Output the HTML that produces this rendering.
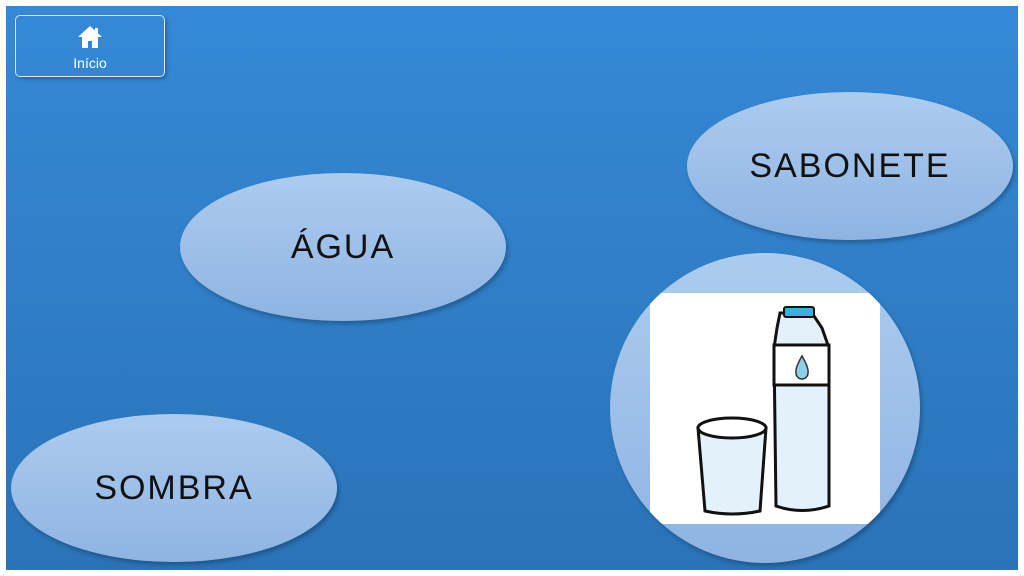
<!DOCTYPE html>
<html><head><style>
html,body{margin:0;padding:0;width:1024px;height:576px;background:#fff;overflow:hidden;font-family:"Liberation Sans",sans-serif}
#bg{position:absolute;left:6px;top:6px;width:1012px;height:564px;background:linear-gradient(#3589d6,#2a73b8)}
.el{position:absolute;width:326px;height:148px;border-radius:50%;background:linear-gradient(#acccef,#8fb4e2);box-shadow:2px 3px 4px rgba(0,0,0,.25);display:flex;align-items:center;justify-content:center;font-size:34px;letter-spacing:2px;color:#111}
#btn{position:absolute;left:15px;top:15px;width:150px;height:62px;border:1.5px solid #d8e6f5;border-radius:5px;box-sizing:border-box;box-shadow:2px 2px 4px rgba(0,0,0,.25);color:#fff;text-align:center;font-size:14px}
</style></head><body>
<div id="bg"></div>
<div id="btn">
<svg width="26" height="24" viewBox="0 0 26 24" style="margin-top:9px;display:block;margin-left:auto;margin-right:auto"><path d="M13 1 L25 12 L21 12 L21 23 L15 23 L15 16 L11 16 L11 23 L5 23 L5 12 L1 12 Z" fill="#fff"/><rect x="18" y="3" width="3" height="6" fill="#fff"/></svg>
<div style="margin-top:6px">Início</div></div>
<div class="el" style="left:180px;top:173px">ÁGUA</div>
<div class="el" style="left:687px;top:92px">SABONETE</div>
<div class="el" style="left:11px;top:414px">SOMBRA</div>
<div style="position:absolute;left:610px;top:253px;width:310px;height:310px;border-radius:50%;background:linear-gradient(#acccef,#8fb4e2);box-shadow:2px 3px 4px rgba(0,0,0,.25);overflow:hidden">
<div style="position:absolute;left:40px;top:40px;width:230px;height:231px;background:#fff;border-radius:8px">
<svg width="230" height="231" viewBox="0 0 230 231">
<g stroke="#111" stroke-width="3" fill="#e3f1fa">
<path d="M48 135 L55 218 Q82 224 110 218 L116 135 Z"/>
<ellipse cx="82" cy="135" rx="34" ry="10" fill="#fff"/>
<path d="M130 20 L162 20 L172 35 L179 55 L179 213 Q152 222 126 213 L124 55 L127 35 Z"/>
<rect x="124" y="52" width="55" height="40" fill="#fff"/>
</g>
<rect x="134" y="14" width="30" height="10" rx="2" fill="#38b0e0" stroke="#111" stroke-width="2"/>
<path d="M152 63 Q145 75 146 80 A6 6 0 0 0 158 80 Q159 75 152 63Z" fill="#8fd0e8" stroke="#333" stroke-width="1.5"/>
</svg></div></div>
</body></html>
